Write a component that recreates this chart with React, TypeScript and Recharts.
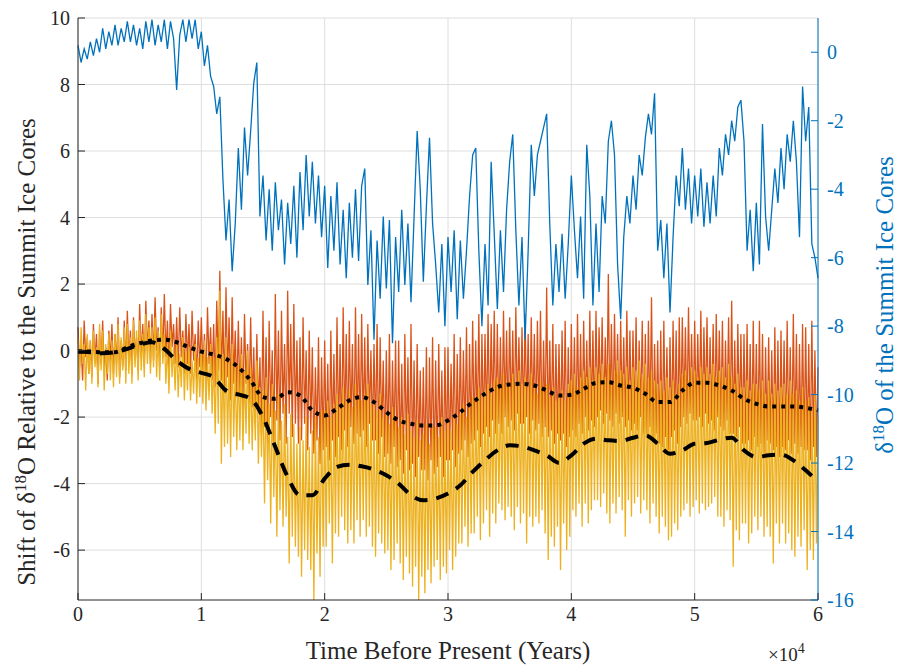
import { LineChart, Line, XAxis, YAxis, CartesianGrid, Label } from 'recharts';

// sampling steps (years)
const SUMMIT_STEP = 250;
const SHIFT_STEP = 125;
const SMOOTH_STEP = 1000;

// right axis: d18O of the summit cores, 4 samples per 1000 years
const summit = [
  0.2, -0.3, 0.1, -0.2, 0.3, -0.1, 0.4, 0.0, 0.7, 0.1, 0.6, 0.2, 0.8, 0.2, 0.7, 0.3,
  0.9, 0.3, 0.8, 0.2, 0.7, 0.1, 0.9, 0.3, 0.95, 0.2, 0.8, 0.3, 0.95, 0.1, 0.9, 0.4,
  -1.1, 0.5, 0.95, 0.3, 0.95, 0.4, 0.95, 0.1, 0.6, -0.4, 0.2, -0.7, -1.0, -1.8, -1.3, -3.7,
  -5.5, -4.3, -6.4, -5.0, -2.8, -4.6, -2.2, -3.6, -2.3, -0.9, -0.3, -4.8, -3.6, -5.5, -4.0, -5.8,
  -3.8, -5.2, -4.3, -6.2, -4.4, -5.6, -3.9, -6.0, -3.5, -5.2, -3.0, -4.8, -3.2, -5.0, -3.6, -5.4,
  -3.9, -6.3, -4.2, -5.8, -3.8, -6.2, -4.6, -6.6, -4.4, -6.0, -4.0, -6.1, -3.9, -3.4, -6.8, -5.2,
  -8.4, -5.5, -7.2, -4.8, -6.9, -4.9, -8.5, -5.4, -7.0, -4.6, -6.8, -5.0, -7.3, -4.8, -2.3, -4.0,
  -6.7, -4.5, -2.5, -5.0, -6.2, -7.6, -5.6, -8.0, -5.4, -7.0, -5.2, -7.8, -5.5, -7.2, -5.8, -4.2,
  -3.0, -2.8, -5.8, -8.0, -5.6, -7.4, -3.2, -5.3, -7.5, -5.2, -7.0, -4.6, -3.2, -2.4, -5.2, -7.4,
  -5.4, -8.4, -5.8, -2.7, -4.2, -3.0, -2.6, -2.2, -1.8, -5.0, -7.4, -5.6, -7.0, -5.3, -7.2, -5.6,
  -3.6, -5.2, -6.6, -4.8, -7.2, -2.7, -4.2, -7.4, -5.0, -7.0, -4.2, -5.0, -2.6, -2.0, -3.0, -6.2,
  -7.8, -5.4, -4.2, -5.0, -3.6, -4.6, -3.0, -3.6, -2.5, -1.8, -2.4, -1.2, -5.8, -4.9, -6.6, -5.0,
  -7.6, -5.4, -3.6, -4.5, -2.8, -4.6, -3.4, -5.0, -3.6, -4.8, -3.4, -5.1, -3.8, -5.0, -3.6, -4.8,
  -2.8, -3.6, -2.4, -3.0, -2.0, -2.6, -1.6, -1.4, -2.6, -5.8, -4.6, -6.4, -4.4, -6.2, -2.1, -4.8,
  -5.8, -4.6, -3.4, -4.4, -2.8, -4.0, -2.4, -3.2, -2.0, -3.2, -5.4, -1.0, -2.6, -1.6, -5.6, -6.0,
  -6.6,
];

// left axis: shift relative to the summit cores (orange record), 8 samples per 1000 years
const shiftA = [
  0.7, -0.5, 0.2, -0.9, 0.9, -0.2, 0.4, -0.7,
  0.3, -0.8, 0.8, -0.3, 0.5, -1.0, 0.6, -0.4,
  0.9, -0.6, 0.1, -0.9, 0.6, -0.3, 0.8, -0.7,
  0.5, -0.4, 1.0, -0.8, 0.3, -0.5, 0.9, -0.6,
  1.2, -0.3, 0.6, -0.7, 1.0, -0.1, 0.4, -0.6,
  1.4, -0.2, 0.8, -0.5, 1.5, 0.0, 0.9, -0.4,
  1.1, -0.3, 1.6, 0.0, 0.7, -0.5, 1.3, -0.2,
  1.7, -0.2, 0.9, -0.6, 1.4, 0.1, 0.8, -0.4,
  1.0, -0.5, 1.3, -0.2, 0.6, -0.7, 1.1, -0.4,
  0.8, -0.7, 1.2, -0.3, 0.5, -0.9, 0.9, -0.5,
  1.0, -0.6, 0.5, -1.0, 1.3, -0.4, 0.7, -0.9,
  0.8, -1.1, 1.5, -0.6, 2.4, -0.9, 1.2, -1.3,
  1.9, -0.8, 1.0, -1.5, 1.6, -1.0, 0.6, -1.4,
  0.9, -1.3, 0.4, -1.8, 1.1, -1.0, 0.2, -1.6,
  1.0, -1.7, 0.1, -2.2, 0.5, -1.9, -0.2, -2.5,
  1.2, -2.3, 0.4, -2.8, 0.9, -2.0, 0.0, -2.9,
  1.7, -2.1, 0.6, -2.7, 1.2, -1.9, 0.2, -2.8,
  1.8, -1.9, 0.8, -2.6, 1.4, -2.2, 0.3, -2.8,
  0.4, -2.7, 1.0, -2.2, 0.0, -3.0, 0.6, -2.5,
  0.1, -3.1, -0.5, -2.7, 0.4, -3.4, -0.2, -3.0,
  0.3, -2.9, -0.4, -3.3, 0.6, -2.7, -0.1, -3.2,
  1.0, -2.6, 0.2, -3.0, 1.3, -2.4, 0.5, -2.9,
  0.9, -2.3, 0.2, -2.8, 1.3, -2.5, 0.5, -2.6,
  1.1, -2.4, 0.4, -2.9, 0.8, -2.2, 0.0, -2.7,
  0.2, -2.7, 0.8, -3.1, 0.4, -2.6, -0.3, -3.2,
  0.0, -3.1, 0.5, -3.4, -0.3, -2.9, 0.3, -3.5,
  0.3, -3.3, -0.4, -3.7, 0.5, -3.0, -0.2, -3.6,
  0.8, -3.4, -0.3, -3.8, 0.2, -3.2, -0.6, -3.6,
  -0.5, -3.6, 0.1, -3.9, -0.2, -3.3, 0.4, -3.7,
  -0.3, -3.5, 0.2, -3.2, -0.6, -3.8, 0.1, -3.3,
  0.1, -3.3, -0.4, -3.0, 0.5, -3.5, -0.1, -3.1,
  0.4, -3.0, 0.0, -2.7, 0.7, -3.2, 0.2, -2.8,
  0.9, -2.7, 0.3, -2.4, 1.1, -2.9, 0.5, -2.5,
  0.5, -2.3, 1.1, -2.6, 0.8, -2.1, 1.2, -2.5,
  0.8, -2.2, 0.4, -2.5, 1.2, -2.0, 0.6, -2.3,
  1.0, -2.1, 0.6, -2.4, 1.3, -1.9, 0.4, -2.2,
  0.7, -2.2, 1.1, -2.0, 0.5, -2.5, 1.0, -2.1,
  0.5, -2.4, 0.9, -2.2, 1.2, -2.6, 0.3, -2.3,
  1.9, -2.6, 0.3, -2.4, 0.8, -2.8, 0.2, -2.5,
  0.2, -2.7, 0.6, -2.5, 0.9, -2.9, 0.1, -2.6,
  0.8, -2.4, 0.4, -2.6, 1.1, -2.2, 0.5, -2.5,
  0.9, -2.0, 0.3, -2.4, 1.2, -2.1, 0.6, -2.3,
  1.2, -2.0, 0.7, -1.8, 1.0, -2.2, 0.4, -1.9,
  2.3, -2.1, 0.8, -2.3, 1.1, -1.9, 0.5, -2.2,
  0.9, -2.0, 0.4, -2.3, 1.2, -2.1, 0.6, -2.4,
  0.6, -2.2, 1.0, -2.4, 0.3, -2.0, 0.9, -2.5,
  0.5, -2.6, 0.9, -2.3, 1.6, -2.7, 0.2, -2.5,
  0.3, -2.8, 0.6, -2.9, 0.9, -2.6, 0.1, -3.0,
  0.4, -2.6, 0.9, -2.4, 0.6, -2.8, 1.0, -2.3,
  1.0, -2.0, 0.7, -2.2, 1.3, -1.9, 0.5, -2.1,
  0.9, -2.1, 0.5, -2.0, 1.2, -2.3, 0.7, -1.9,
  1.0, -2.2, 0.4, -2.1, 0.8, -2.4, 1.1, -2.0,
  0.6, -2.3, 0.9, -2.4, 0.3, -2.1, 1.0, -2.5,
  1.5, -2.5, 0.3, -2.6, 0.8, -2.3, 0.5, -2.8,
  0.5, -2.8, 0.8, -2.7, 0.2, -3.0, 0.9, -2.6,
  0.2, -2.9, 0.9, -2.8, 0.5, -3.1, 0.1, -2.7,
  0.4, -2.8, 0.0, -3.0, 0.7, -2.9, 0.3, -3.2,
  0.6, -2.9, 0.3, -3.0, 0.9, -2.7, 0.1, -3.1,
  1.1, -2.8, 0.5, -3.1, 0.2, -2.9, 0.8, -3.0,
  0.7, -3.0, 0.2, -3.3, 0.9, -2.9, 0.0, -3.2,
  -0.5,
];

// left axis: second record (yellow), 8 samples per 1000 years
const shiftB = [
  0.4, -0.9, 0.7, -0.4, 0.2, -1.2, 0.5, -0.7,
  0.3, -1.0, 0.6, -0.5, 0.1, -1.1, 0.8, -0.6,
  0.6, -1.2, 0.2, -0.7, 0.5, -0.9, 0.3, -1.1,
  0.5, -0.8, 0.8, -1.0, 0.4, -0.6, 0.7, -1.0,
  0.8, -0.7, 0.4, -1.0, 0.9, -0.5, 0.6, -0.9,
  0.9, -0.6, 0.5, -0.8, 1.1, -0.4, 0.7, -0.7,
  0.7, -0.5, 1.0, -0.8, 0.6, -0.9, 1.1, -0.4,
  0.5, -1.0, 0.2, -1.3, 0.6, -0.8, 0.1, -1.2,
  0.3, -1.4, -0.1, -1.1, 0.4, -1.5, 0.0, -1.2,
  0.1, -1.5, -0.3, -1.3, 0.2, -1.6, -0.2, -1.4,
  0.0, -1.6, 0.3, -1.8, -0.2, -1.5, 0.2, -1.9,
  -0.2, -2.5, 0.4, -2.2, 1.8, -3.4, -0.1, -2.9,
  0.4, -2.8, -0.3, -3.2, 0.2, -2.6, -0.5, -3.0,
  -0.4, -2.7, -0.1, -3.0, -0.6, -2.5, 0.0, -2.8,
  -0.5, -3.0, -0.9, -2.7, -0.3, -3.4, -1.1, -3.2,
  -1.2, -4.6, -0.8, -3.9, -1.6, -5.2, -1.0, -4.4,
  -1.8, -5.6, -1.3, -4.8, -2.1, -5.3, -1.6, -5.0,
  -2.6, -6.4, -1.9, -5.6, -2.2, -5.9, -2.8, -6.2,
  -2.3, -6.8, -2.7, -6.0, -2.0, -6.3, -2.9, -6.6,
  -2.4, -7.5, -2.0, -6.1, -2.6, -6.8, -1.8, -5.9,
  -1.8, -5.9, -1.5, -5.2, -2.0, -6.4, -1.6, -5.5,
  -1.3, -5.6, -1.7, -5.0, -1.1, -5.4, -1.5, -5.8,
  -1.2, -5.4, -1.7, -5.8, -1.0, -5.1, -1.4, -5.6,
  -1.5, -5.1, -1.3, -5.6, -1.0, -5.3, -1.6, -5.9,
  -1.6, -6.2, -1.8, -5.5, -1.3, -5.8, -2.0, -6.1,
  -1.9, -6.0, -2.2, -6.6, -1.7, -6.3, -2.0, -5.8,
  -2.3, -6.4, -2.0, -6.9, -2.5, -6.2, -1.9, -6.7,
  -2.4, -7.1, -2.6, -6.5, -2.1, -7.5, -2.7, -6.8,
  -2.5, -7.3, -2.2, -6.6, -2.8, -7.0, -2.3, -6.5,
  -2.3, -6.3, -2.6, -6.9, -2.0, -6.5, -2.4, -6.7,
  -2.1, -6.0, -2.4, -6.6, -1.9, -6.2, -2.2, -5.8,
  -1.9, -5.8, -1.6, -5.3, -2.0, -5.9, -1.5, -5.5,
  -1.4, -5.5, -1.5, -5.0, -1.1, -5.7, -1.3, -5.2,
  -1.2, -4.8, -1.0, -5.6, -1.3, -4.9, -0.9, -5.2,
  -0.8, -4.6, -1.1, -4.8, -0.7, -5.1, -1.0, -4.7,
  -0.9, -5.0, -0.7, -5.4, -1.0, -4.7, -0.6, -5.2,
  -1.0, -4.9, -0.8, -5.8, -1.1, -5.0, -0.7, -5.3,
  -1.1, -5.0, -1.3, -5.2, -0.9, -4.8, -1.2, -5.5,
  -1.0, -6.3, -1.4, -5.6, -1.1, -5.9, -1.5, -5.3,
  -1.3, -6.6, -1.2, -5.2, -1.5, -6.0, -1.0, -5.6,
  -0.9, -4.8, -0.7, -5.0, -1.1, -4.6, -0.8, -5.3,
  -0.6, -4.6, -0.8, -5.2, -0.5, -4.8, -0.9, -4.5,
  -0.5, -4.5, -0.7, -4.7, -0.4, -4.3, -0.8, -4.9,
  -0.4, -5.2, -0.9, -4.6, -0.6, -4.9, -0.3, -4.4,
  -0.6, -4.8, -0.7, -5.6, -0.5, -4.5, -0.9, -5.0,
  -0.5, -4.6, -0.6, -4.4, -0.3, -4.9, -0.7, -4.5,
  -0.4, -4.8, -0.8, -5.2, -0.6, -4.6, -0.9, -5.0,
  -1.0, -5.5, -0.9, -5.0, -1.2, -5.3, -0.8, -5.7,
  -1.1, -5.6, -0.9, -5.2, -1.3, -5.4, -1.0, -5.0,
  -0.7, -4.8, -0.6, -4.6, -0.9, -5.0, -0.5, -4.7,
  -0.6, -4.5, -0.8, -4.9, -0.5, -4.6, -0.7, -4.8,
  -0.5, -4.7, -0.7, -4.6, -0.4, -4.4, -0.8, -5.0,
  -0.6, -5.0, -0.5, -5.3, -0.8, -4.8, -0.4, -5.1,
  -0.8, -6.5, -1.0, -5.4, -0.7, -5.7, -1.1, -5.2,
  -1.1, -5.2, -0.9, -5.8, -1.2, -5.5, -1.0, -5.0,
  -1.0, -5.4, -1.2, -5.0, -0.9, -5.6, -1.3, -5.3,
  -0.9, -5.6, -1.3, -6.4, -1.0, -5.2, -1.2, -5.8,
  -1.1, -5.2, -1.0, -5.8, -1.3, -5.5, -0.9, -6.0,
  -1.3, -6.2, -1.2, -5.6, -1.5, -5.9, -1.1, -5.4,
  -1.5, -6.6, -1.4, -6.0, -1.7, -6.3, -1.3, -5.8,
  -2.0,
];

// smoothed records, one value per 1000 years
const smoothA = [
  -0.03, -0.03, -0.05, -0.05, 0.1, 0.22, 0.3, 0.33, 0.25, 0.1, -0.03, -0.12, -0.25, -0.5, -0.9, -1.4,
  -1.45, -1.25, -1.35, -1.8, -1.95, -1.75, -1.5, -1.4, -1.55, -1.85, -2.1, -2.2, -2.25, -2.25, -2.1,
  -1.85, -1.55, -1.3, -1.1, -1.02, -1.0, -1.05, -1.2, -1.35, -1.33, -1.15, -0.97, -0.95, -1.05, -1.12,
  -1.3, -1.55, -1.55, -1.2, -0.97, -0.97, -1.05, -1.2, -1.45, -1.6, -1.68, -1.68, -1.68, -1.72, -1.8,
];
const smoothB = [
  -0.03, -0.05, -0.08, -0.05, 0.05, 0.18, 0.25, 0.05, -0.3, -0.55, -0.67, -0.8, -1.2, -1.32, -1.45, -2.0,
  -2.9, -3.8, -4.35, -4.35, -3.85, -3.5, -3.43, -3.48, -3.58, -3.75, -4.0, -4.35, -4.5, -4.45, -4.3,
  -4.05, -3.65, -3.3, -3.0, -2.85, -2.88, -3.0, -3.15, -3.37, -3.15, -2.8, -2.65, -2.7, -2.72, -2.62,
  -2.55, -2.8, -3.1, -3.0, -2.8, -2.78, -2.68, -2.62, -3.0, -3.2, -3.15, -3.13, -3.3, -3.6, -3.95,
];

const xTicks = [0, 10000, 20000, 30000, 40000, 50000, 60000];
const leftTicks = [-6, -4, -2, 0, 2, 4, 6, 8, 10];
const rightTicks = [-16, -14, -12, -10, -8, -6, -4, -2, 0];

const toSeries = (vals: number[], step: number) => vals.map((v, i) => ({ t: i * step, v }));

const summitData = toSeries(summit, SUMMIT_STEP);
const shiftAData = toSeries(shiftA, SHIFT_STEP);
const shiftBData = toSeries(shiftB, SHIFT_STEP);
const smoothAData = toSeries(smoothA, SMOOTH_STEP);
const smoothBData = toSeries(smoothB, SMOOTH_STEP);

const W = 898;
const H = 666;
const PL = 78;
const PR = 818;
const PT = 18;
const PB = 600;

const FONT = '"Liberation Serif", "Times New Roman", serif';
const DARK = '#262626';
const BLUE = '#0072BD';
const TICK_FS = 20;
const TITLE_FS = 25;

const LeftTick = ({ y, payload }: any) => (
  <g>
    <line x1={PL} x2={PL + 7} y1={y} y2={y} stroke={DARK} />
    <text x={PL - 8} y={y} textAnchor="end" dominantBaseline="central" fontSize={TICK_FS} fill={DARK} fontFamily={FONT}>
      {payload.value}
    </text>
  </g>
);

const RightTick = ({ y, payload }: any) => (
  <g>
    <line x1={PR - 7} x2={PR} y1={y} y2={y} stroke={BLUE} />
    <text x={PR + 9} y={y} textAnchor="start" dominantBaseline="central" fontSize={TICK_FS} fill={BLUE} fontFamily={FONT}>
      {payload.value}
    </text>
  </g>
);

const BottomTick = ({ x, payload }: any) => (
  <g>
    <line x1={x} x2={x} y1={PB - 7} y2={PB} stroke={DARK} />
    <text x={x} y={PB + 14} textAnchor="middle" dominantBaseline="central" fontSize={TICK_FS} fill={DARK} fontFamily={FONT}>
      {payload.value / 10000}
    </text>
  </g>
);

const TopTick = ({ x }: any) => (
  <line x1={x} x2={x} y1={PT} y2={PT + 7} stroke={DARK} />
);

export default function App() {
  return (
    <div style={{ position: 'absolute', left: 0, top: 0, width: W, height: H, background: '#fff' }}>
      <LineChart width={W} height={H} margin={{ top: PT, right: 0, bottom: 0, left: 0 }}>
        <CartesianGrid xAxisId="bottom" yAxisId="left" stroke="#dedede" horizontalValues={leftTicks} verticalValues={xTicks} />
        <XAxis
          xAxisId="bottom"
          dataKey="t"
          type="number"
          domain={[0, 60000]}
          ticks={xTicks}
          interval={0}
          height={H - PB}
          tickLine={false}
          axisLine={{ stroke: DARK }}
          tick={<BottomTick />}
        >
          <Label
            content={() => (
              <g fontFamily={FONT} fill={DARK}>
                <text x={(PL + PR) / 2} y={659} textAnchor="middle" fontSize={TITLE_FS}>
                  Time Before Present (Years)
                </text>
                <text x={768} y={661} textAnchor="start" fontSize={19}>
                  ×10<tspan dy={-8} fontSize={14}>4</tspan>
                </text>
              </g>
            )}
          />
        </XAxis>
        <XAxis
          xAxisId="top"
          orientation="top"
          dataKey="t"
          type="number"
          domain={[0, 60000]}
          ticks={xTicks}
          interval={0}
          height={0}
          tickLine={false}
          axisLine={{ stroke: DARK }}
          tick={<TopTick />}
        />
        <YAxis
          yAxisId="left"
          domain={[-7.5, 10]}
          ticks={leftTicks}
          interval={0}
          width={PL}
          allowDataOverflow
          tickLine={false}
          axisLine={{ stroke: DARK }}
          tick={<LeftTick />}
        >
          <Label
            content={() => (
              <text
                transform="translate(35 352) rotate(-90)"
                textAnchor="middle"
                fontSize={TITLE_FS}
                fill={DARK}
                fontFamily={FONT}
              >
                Shift of δ<tspan dy={-9} fontSize={17}>18</tspan>
                <tspan dy={9}>O Relative to the Summit Ice Cores</tspan>
              </text>
            )}
          />
        </YAxis>
        <YAxis
          yAxisId="right"
          orientation="right"
          domain={[-16, 1]}
          ticks={rightTicks}
          interval={0}
          width={W - PR}
          allowDataOverflow
          tickLine={false}
          axisLine={{ stroke: BLUE }}
          tick={<RightTick />}
        >
          <Label
            content={() => (
              <text
                transform="translate(893 305) rotate(-90)"
                textAnchor="middle"
                fontSize={TITLE_FS}
                fill={BLUE}
                fontFamily={FONT}
              >
                δ<tspan dy={-9} fontSize={17}>18</tspan>
                <tspan dy={9}>O of the Summit Ice Cores</tspan>
              </text>
            )}
          />
        </YAxis>
        <Line
          xAxisId="bottom"
          yAxisId="left"
          data={shiftAData}
          dataKey="v"
          stroke="#D95319"
          strokeWidth={1.3}
          dot={false}
          type="linear"
          isAnimationActive={false}
        />
        <Line
          xAxisId="bottom"
          yAxisId="left"
          data={shiftBData}
          dataKey="v"
          stroke="#EDB120"
          strokeWidth={1.3}
          dot={false}
          type="linear"
          isAnimationActive={false}
        />
        <Line
          xAxisId="bottom"
          yAxisId="right"
          data={summitData}
          dataKey="v"
          stroke={BLUE}
          strokeWidth={1.3}
          dot={false}
          type="linear"
          isAnimationActive={false}
        />
        <Line
          xAxisId="bottom"
          yAxisId="left"
          data={smoothAData}
          dataKey="v"
          stroke="#000"
          strokeWidth={4}
          strokeDasharray="4 5"
          dot={false}
          type="monotone"
          isAnimationActive={false}
        />
        <Line
          xAxisId="bottom"
          yAxisId="left"
          data={smoothBData}
          dataKey="v"
          stroke="#000"
          strokeWidth={4}
          strokeDasharray="13 9"
          dot={false}
          type="monotone"
          isAnimationActive={false}
        />
      </LineChart>
    </div>
  );
}
